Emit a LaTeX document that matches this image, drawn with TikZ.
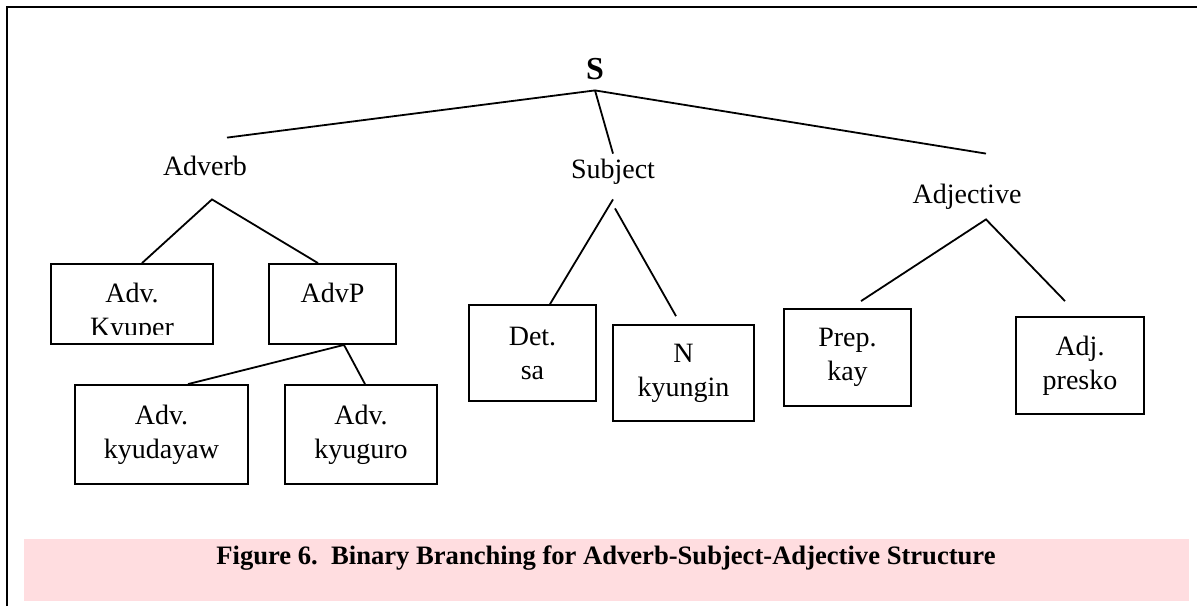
\documentclass[tikz,border=0pt]{standalone}
\usepackage{fontspec}
\setmainfont{Liberation Serif}
\usetikzlibrary{calc}
\definecolor{captionpink}{RGB}{255,221,224}
\tikzset{
    treediagram/.style={x=0.5pt, y=-0.5pt, font=\fontsize{14}{17}\selectfont},
    catlabel/.style={anchor=base, inner sep=0pt, text height=10pt, text depth=3pt},
    wordbox/.style={draw, line width=0.9pt, align=center, inner sep=0pt},
    branch/.style={line width=0.9pt},
    frameline/.style={line width=1.15pt},
    captionband/.style={fill=captionpink, draw=none, inner sep=0pt},
}

\begin{document}
\begin{tikzpicture}[treediagram]
    \useasboundingbox (0,0) rectangle (1197,606);
    % outer frame: only top and left edges show
    \draw[frameline] (7,606) -- (7,7) -- (1197,7);

    % category labels
    \node[catlabel, font=\fontsize{16}{19}\selectfont\bfseries] (s) at (595,79) {S};
    \node[catlabel] (adverb)    at (205,175) {Adverb};
    \node[catlabel] (subject)   at (613,178) {Subject};
    \node[catlabel] (adjective) at (967,203) {Adjective};

    % word boxes
    \node[wordbox, minimum width=81pt, minimum height=40pt] (kyuper) at (132,304) {};
    \node[wordbox, minimum width=63.5pt, minimum height=40pt, text height=10pt, text depth=12pt] (advp) at (332.5,304) {AdvP};
    \node[wordbox, minimum width=86.5pt, minimum height=49.5pt] (kyudayaw) at (161.5,434.5) {Adv.\\kyudayaw};
    \node[wordbox, minimum width=76pt, minimum height=49.5pt]   (kyuguro)  at (361,434.5)   {Adv.\\kyuguro};
    \node[wordbox, minimum width=63.5pt, minimum height=48pt]   (det)      at (532.5,353)   {Det.\\sa};
    \node[wordbox, minimum width=70.5pt, minimum height=48pt]   (noun)     at (683.5,373)   {N\\kyungin};
    \node[wordbox, minimum width=63.5pt, minimum height=48.5pt] (prep)     at (847.5,357.5) {Prep.\\kay};
    \node[wordbox, minimum width=64pt, minimum height=48.5pt]   (adj)      at (1080,365.5)  {Adj.\\presko};

    % text of the first box is cut off at its baseline
    \begin{scope}
        \clip (kyuper.north west) rectangle ($(kyuper.south east)+(0,-10)$);
        \node[align=center, inner sep=0pt] (kyupertext) at ($(kyuper)+(0,8.5)$) {Adv.\\Kyuper};
    \end{scope}

    % branches
    \draw[branch] ($(adverb.north)+(22,-17)$) -- ($(s.south)+(0,5)$) -- ($(adjective.north)+(19,-29)$);
    \draw[branch] ($(s.south)+(0,5)$) -- ($(subject.north)+(0,-4)$);
    \draw[branch] ($(kyuper.north)+(10,0)$) -- ($(adverb.south)+(7,18)$) -- ($(advp.north)+(-14.5,0)$);
    \draw[branch] ($(kyudayaw.north)+(26.5,0)$) -- ($(advp.south)+(11.5,0)$) -- ($(kyuguro.north)+(4,0)$);
    \draw[branch] ($(det.north)+(17.5,0)$) -- ($(subject.south)+(0,15)$);
    \draw[branch] ($(subject.south)+(2,24)$) -- ($(noun.north)+(-7.5,-8)$);
    \draw[branch] ($(prep.north)+(13.5,-7)$) -- ($(adjective.south)+(19,10)$) -- ($(adj.north)+(-15,-15)$);

    % caption
    \node[captionband, minimum width=582.5pt, minimum height=31pt] (band) at (606.5,570) {};
    \node[anchor=base, font=\fontsize{13.3}{16}\selectfont\bfseries] (caption) at (606,564)
        {Figure 6.\ \ Binary Branching for Adverb-Subject-Adjective Structure};
\end{tikzpicture}
\end{document}
